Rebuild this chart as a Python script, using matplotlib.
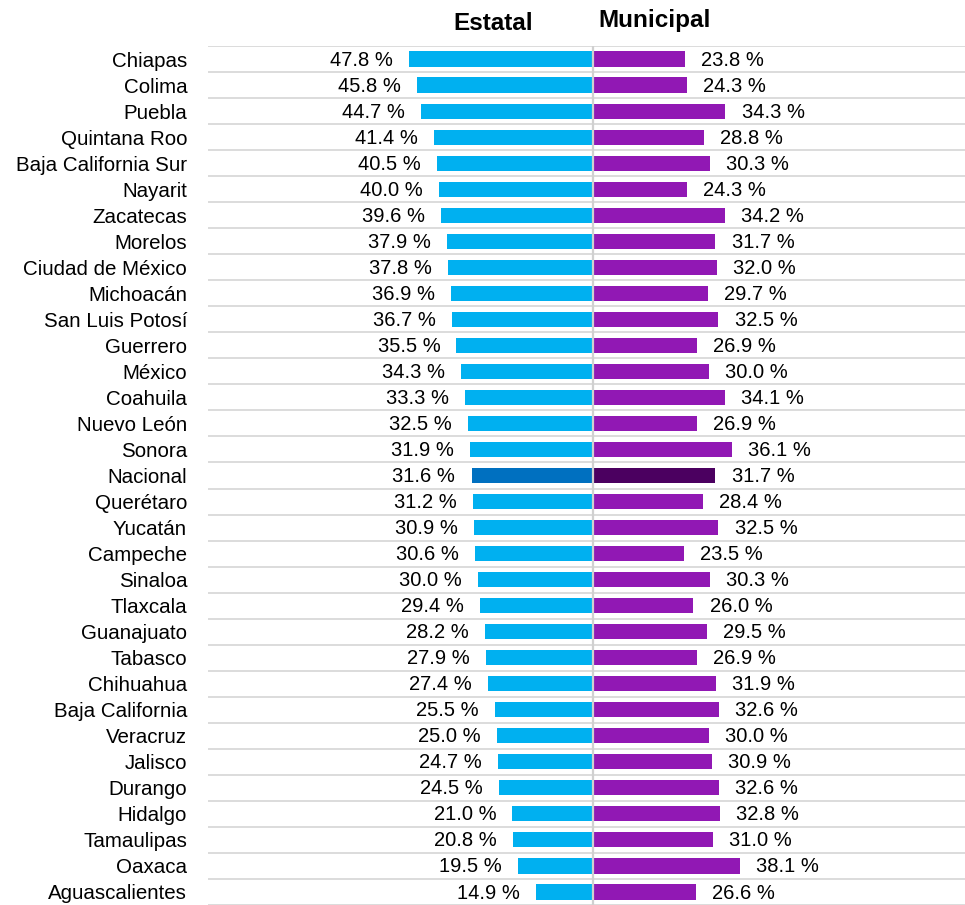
import matplotlib
matplotlib.use("Agg")
import matplotlib.pyplot as plt
import numpy as np

plt.rcParams['font.family'] = ['Liberation Sans', 'DejaVu Sans']

estados = ["Chiapas", "Colima", "Puebla", "Quintana Roo", "Baja California Sur",
           "Nayarit", "Zacatecas", "Morelos", "Ciudad de México", "Michoacán",
           "San Luis Potosí", "Guerrero", "México", "Coahuila", "Nuevo León",
           "Sonora", "Nacional", "Querétaro", "Yucatán", "Campeche", "Sinaloa",
           "Tlaxcala", "Guanajuato", "Tabasco", "Chihuahua", "Baja California",
           "Veracruz", "Jalisco", "Durango", "Hidalgo", "Tamaulipas", "Oaxaca",
           "Aguascalientes"]
estatal = [47.8, 45.8, 44.7, 41.4, 40.5, 40.0, 39.6, 37.9, 37.8, 36.9, 36.7,
           35.5, 34.3, 33.3, 32.5, 31.9, 31.6, 31.2, 30.9, 30.6, 30.0, 29.4,
           28.2, 27.9, 27.4, 25.5, 25.0, 24.7, 24.5, 21.0, 20.8, 19.5, 14.9]
municipal = [23.8, 24.3, 34.3, 28.8, 30.3, 24.3, 34.2, 31.7, 32.0, 29.7, 32.5,
             26.9, 30.0, 34.1, 26.9, 36.1, 31.7, 28.4, 32.5, 23.5, 30.3, 26.0,
             29.5, 26.9, 31.9, 32.6, 30.0, 30.9, 32.6, 32.8, 31.0, 38.1, 26.6]

fig = plt.figure(figsize=(9.65, 9.05), dpi=100)
ax = fig.add_axes([208/965, 0, 757/965, 859/905])

y = np.arange(len(estados))
col_e = ["#0070C0" if e == "Nacional" else "#00B0F0" for e in estados]
col_m = ["#4B0060" if e == "Nacional" else "#9118B4" for e in estados]

# separadores de fila
for i in range(len(estados) + 1):
    ax.axhline(i - 0.5, color="#D9D9D9", lw=1.3, zorder=0)

ax.barh(y, [-v for v in estatal], height=0.58, color=col_e, zorder=2)
ax.barh(y, municipal, height=0.58, color=col_m, zorder=2)
ax.axvline(0, color="#D0D0D0", lw=1.6, zorder=3)

for i in range(len(estados)):
    ax.text(-estatal[i] - 4.2, y[i] + 0.04, f"{estatal[i]:.1f} %", ha="right",
            va="center", fontsize=14.5)
    ax.text(municipal[i] + 4.2, y[i] + 0.04, f"{municipal[i]:.1f} %", ha="left",
            va="center", fontsize=14.5)

ax.set_xlim(-100, 96.5)
ax.set_ylim(len(estados) - 0.5, -0.5)
ax.set_yticks(y)
ax.set_yticklabels(estados, fontsize=14.8)
ax.tick_params(axis="y", length=0, pad=15)
ax.set_xticks([])
for s in ax.spines.values():
    s.set_visible(False)

fig.text(533/965, 1 - 23/905, "Estatal", ha="right", va="center",
         fontsize=17.5, fontweight="bold")
fig.text(598/965, 1 - 21/905, "Municipal", ha="left", va="center",
         fontsize=17.5, fontweight="bold")

fig.savefig("out.png", dpi=100)
